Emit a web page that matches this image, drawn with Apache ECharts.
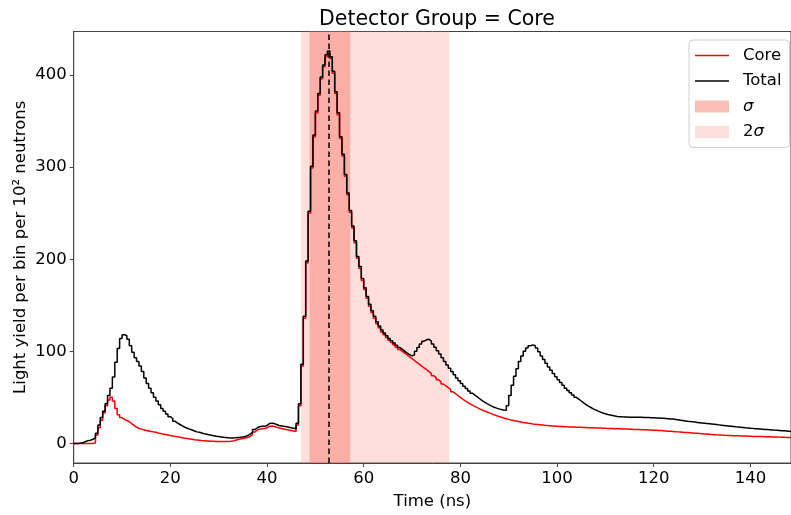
<!DOCTYPE html>
<html>
<head>
<meta charset="utf-8">
<script src="https://cdn.jsdelivr.net/npm/echarts@6/dist/echarts.min.js"></script>
<style>html,body{margin:0;padding:0;background:#fff}#chart{width:791px;height:515px}</style>
</head>
<body>
<div id="chart"></div>
<script>
const binStart = 0;
const binWidth = 0.5;
const yTicks = [0, 100, 200, 300, 400];
const meanTime = 52.7;
const sigmaBand = [48.8, 57.2];
const twoSigmaBand = [47.0, 77.7];

const totalValues = [
  0, 0, 0.5, 1, 2, 3, 3.5, 4.5, 6, 11,
  20, 28, 35, 43, 52, 60, 72, 88, 103, 114,
  118, 117, 113, 106, 99, 93, 89, 84, 78, 71,
  65, 60, 55, 50, 46, 42, 38, 35, 32, 29,
  27, 24, 22, 20.5, 19, 17.5, 16.5, 15.5, 14.5, 13.5,
  12.5, 12, 11.2, 10.5, 10, 9.4, 8.8, 8.3, 7.8, 7.4,
  7, 6.6, 6.3, 6, 5.8, 5.8, 6, 6.3, 6.6, 7,
  7.5, 8.5, 10, 12, 15, 17, 18, 18.5, 18.5, 19.5,
  21.5, 22, 21.5, 20.5, 19.5, 19, 18.5, 18, 17.5, 17,
  16.5, 16, 22, 43, 86, 138, 198, 252, 301, 335,
  361, 380, 398, 411, 422, 426, 420, 404, 382, 359,
  333, 314, 292, 272, 253, 236, 220, 203, 192, 179,
  169, 159.5, 151, 144, 138, 132, 127.5, 123, 120, 117,
  114, 111.5, 109, 106.5, 104, 102, 100, 98, 96.5, 95,
  96, 100, 104, 108, 111, 112.5, 113, 111, 108, 104.5,
  100.5, 97, 93, 89, 85, 81.5, 78, 74.5, 71, 68,
  65, 62, 59.5, 57, 54.5, 52.5, 50.5, 48.5, 46.5, 44.8,
  43.2, 41.8, 40.5, 39.3, 38.3, 37.5, 36.8, 36.2, 36, 41,
  52, 63, 73, 81, 89, 95, 100, 103.5, 106, 107,
  106, 103.5, 99.5, 95, 91, 87, 83, 79.5, 76, 72.5,
  69, 66, 63, 60, 57.5, 55, 52.5, 50, 48, 46,
  44, 42.2, 40.5, 39, 37.5, 36.2, 35, 34, 33, 32.2,
  31.4, 30.8, 30.2, 29.7, 29.3, 29, 28.8, 28.7, 28.6, 28.5,
  28.5, 28.4, 28.4, 28.3, 28.3, 28.2, 28.1, 28, 27.9, 27.8,
  27.7, 27.6, 27.4, 27.2, 27, 26.8, 26.6, 26.4, 26, 25.6,
  25.2, 24.8, 24.4, 24, 23.7, 23.4, 23.1, 22.8, 22.5, 22.2,
  21.9, 21.6, 21.3, 21, 20.7, 20.4, 20.1, 19.8, 19.5, 19.2,
  18.9, 18.6, 18.3, 18, 17.8, 17.5, 17.3, 17, 16.8, 16.5,
  16.3, 16, 15.8, 15.6, 15.4, 15.2, 15, 14.8, 14.6, 14.4,
  14.2, 14, 13.8, 13.6, 13.4, 13.2, 13
];

const coreValues = [
  0, 0, 0, 0, 0, 0, 0, 0, 0.5, 9,
  17, 25, 33, 41, 47, 50, 46, 38, 31, 28,
  26, 25, 23.5, 21.5, 19.5, 17.5, 16.5, 15.5, 14.8, 14,
  13.5, 13, 12.5, 12, 11.3, 10.7, 10.1, 9.6, 9.1, 8.6,
  8.1, 7.6, 7.1, 6.6, 6.1, 5.6, 5.2, 4.8, 4.4, 4,
  3.7, 3.4, 3.1, 2.9, 2.7, 2.5, 2.3, 2.2, 2.1, 2,
  2, 2, 2, 2.1, 2.2, 2.5, 3.5, 4.2, 4.8, 5.3,
  5.8, 6.5, 7.5, 9.5, 12.5, 14.5, 15.5, 16, 16.2, 17,
  18.5, 18.8, 18.3, 17.5, 16.8, 16.2, 15.6, 15, 14.5, 14,
  13.5, 13, 20, 41, 84, 136, 196, 250, 299, 333,
  359, 378, 396, 409, 420, 424, 418, 402, 380, 357,
  331, 312, 290, 270, 251, 234, 218, 201, 190, 177,
  167, 157.5, 149, 142, 136, 130, 125.5, 121, 118, 115,
  112, 109.5, 107, 104.5, 102, 100, 98, 96, 94, 92,
  90, 88, 86, 84, 82, 80, 78, 76, 73.5, 71.5,
  69, 67, 64.5, 62.5, 60.5, 58.5, 56, 54, 52, 50,
  48, 46.2, 44.6, 43, 41.6, 40.2, 38.8, 37.5, 36.3, 35.2,
  34.1, 33.1, 32.1, 31.1, 30.1, 29.2, 28.4, 27.6, 26.8, 26.1,
  25.4, 24.8, 24.2, 23.7, 23.2, 22.7, 22.3, 21.9, 21.5, 21.1,
  20.8, 20.5, 20.2, 19.9, 19.6, 19.4, 19.2, 19, 18.8, 18.6,
  18.4, 18.3, 18.2, 18, 17.9, 17.8, 17.7, 17.6, 17.5, 17.4,
  17.3, 17.2, 17.1, 17, 16.9, 16.8, 16.7, 16.6, 16.5, 16.4,
  16.3, 16.2, 16.1, 16, 15.9, 15.8, 15.7, 15.6, 15.5, 15.4,
  15.3, 15.2, 15.1, 15, 14.9, 14.8, 14.7, 14.6, 14.5, 14.4,
  14.3, 14.1, 13.9, 13.7, 13.5, 13.3, 13.1, 12.9, 12.7, 12.5,
  12.3, 12.1, 11.9, 11.7, 11.5, 11.3, 11.1, 10.9, 10.7, 10.5,
  10.3, 10.1, 9.9, 9.7, 9.5, 9.3, 9.2, 9, 8.9, 8.7,
  8.6, 8.5, 8.4, 8.3, 8.2, 8.1, 8, 7.9, 7.8, 7.7,
  7.6, 7.5, 7.45, 7.4, 7.35, 7.3, 7.2, 7.1, 7, 6.95,
  6.9, 6.8, 6.7, 6.6, 6.5, 6.4, 6.3
];

function stepData(values) {
  const pts = values.map((v, i) => [binStart + i * binWidth, v]);
  pts.push([binStart + values.length * binWidth, values[values.length - 1]]);
  return pts;
}

const FONT = 'DejaVu Sans';
const LINE_ICON = 'path://M0,0H68V3H0Z';
const chart = echarts.init(document.getElementById('chart'), null, {renderer: 'canvas'});
chart.setOption({
  animation: false,
  backgroundColor: '#ffffff',
  textStyle: {fontFamily: FONT, color: '#000'},
  title: {
    text: 'Detector Group = Core',
    left: 432, top: 4, textAlign: 'center',
    textStyle: {fontFamily: FONT, fontSize: 20.5, fontWeight: 'normal', color: '#000'}
  },
  grid: {left: 73.7, right: -1, top: 31.5, bottom: 51, show: true, borderColor: '#444', borderWidth: 1, containLabel: false},
  legend: {
    orient: 'vertical', left: 689, top: 40,
    data: [{name: 'Core', icon: LINE_ICON}, {name: 'Total', icon: LINE_ICON}, {name: 'σ', icon: 'rect'}, {name: '2σ', icon: 'rect'}],
    itemWidth: 34, itemHeight: 12, itemGap: 8.5,
    symbolKeepAspect: true,
    padding: [7, 8, 7, 6],
    backgroundColor: 'rgba(255,255,255,0.8)', borderColor: '#d0d0d0', borderWidth: 1, borderRadius: 4,
    selectedMode: false,
    formatter: function (n) {
      if (n === 'σ') return '{i|σ}';
      if (n === '2σ') return '2{i|σ}';
      return n;
    },
    textStyle: {fontFamily: FONT, fontSize: 16.5, color: '#000', lineHeight: 16, padding: [0, 0, 0, 9],
      rich: {i: {fontFamily: FONT, fontSize: 16.5, fontStyle: 'italic', color: '#000'}}}
  },
  xAxis: {
    type: 'value', min: 0, max: 148.4, interval: 20,
    name: 'Time (ns)', nameLocation: 'middle', nameGap: 30,
    nameTextStyle: {fontFamily: FONT, fontSize: 16.5, color: '#000'},
    axisLine: {show: true, onZero: false, lineStyle: {color: '#444', width: 1}},
    axisTick: {show: true, length: 4, lineStyle: {color: '#444'}},
    axisLabel: {fontFamily: FONT, fontSize: 16.5, color: '#000', margin: 7, showMaxLabel: false},
    splitLine: {show: false}
  },
  yAxis: {
    type: 'value', min: -21.3, max: 447.3,
    name: 'Light yield per bin per 10² neutrons', nameLocation: 'middle', nameGap: 44,
    nameMoveOverlap: false,
    nameTextStyle: {fontFamily: FONT, fontSize: 16.5, color: '#000'},
    axisLine: {show: true, onZero: false, lineStyle: {color: '#444', width: 1}},
    axisTick: {show: true, length: 4, lineStyle: {color: '#444'}, customValues: yTicks},
    axisLabel: {fontFamily: FONT, fontSize: 16.5, color: '#000', margin: 7, customValues: yTicks},
    splitLine: {show: false}
  },
  series: [
    {
      name: '2σ', type: 'line', data: [], z: 1,
      color: 'rgba(250,128,114,0.25)',
      itemStyle: {color: 'rgba(250,128,114,0.25)'},
      markArea: {silent: true, itemStyle: {color: 'rgba(250,128,114,0.25)'},
        data: [[{xAxis: twoSigmaBand[0]}, {xAxis: twoSigmaBand[1]}]]}
    },
    {
      name: 'σ', type: 'line', data: [], z: 2,
      color: 'rgba(250,128,114,0.5)',
      itemStyle: {color: 'rgba(250,128,114,0.5)'},
      markArea: {silent: true, itemStyle: {color: 'rgba(250,128,114,0.5)'},
        data: [[{xAxis: sigmaBand[0]}, {xAxis: sigmaBand[1]}]]}
    },
    {
      name: 'Core', type: 'line', step: 'end', symbol: 'none', z: 3,
      color: '#ff0000', itemStyle: {color: '#ff0000'}, lineStyle: {color: '#ff0000', width: 1.5},
      data: stepData(coreValues)
    },
    {
      name: 'Total', type: 'line', step: 'end', symbol: 'none', z: 4,
      color: '#000000', itemStyle: {color: '#000000'}, lineStyle: {color: '#000000', width: 1.5},
      data: stepData(totalValues)
    },
    {
      name: 'mean', type: 'line', data: [], z: 5,
      markLine: {silent: true, symbol: ['none', 'none'], label: {show: false},
        lineStyle: {color: '#000', type: [5.5, 3.5], width: 1.5},
        data: [{xAxis: meanTime}]}
    }
  ]
});
</script>
</body>
</html>
